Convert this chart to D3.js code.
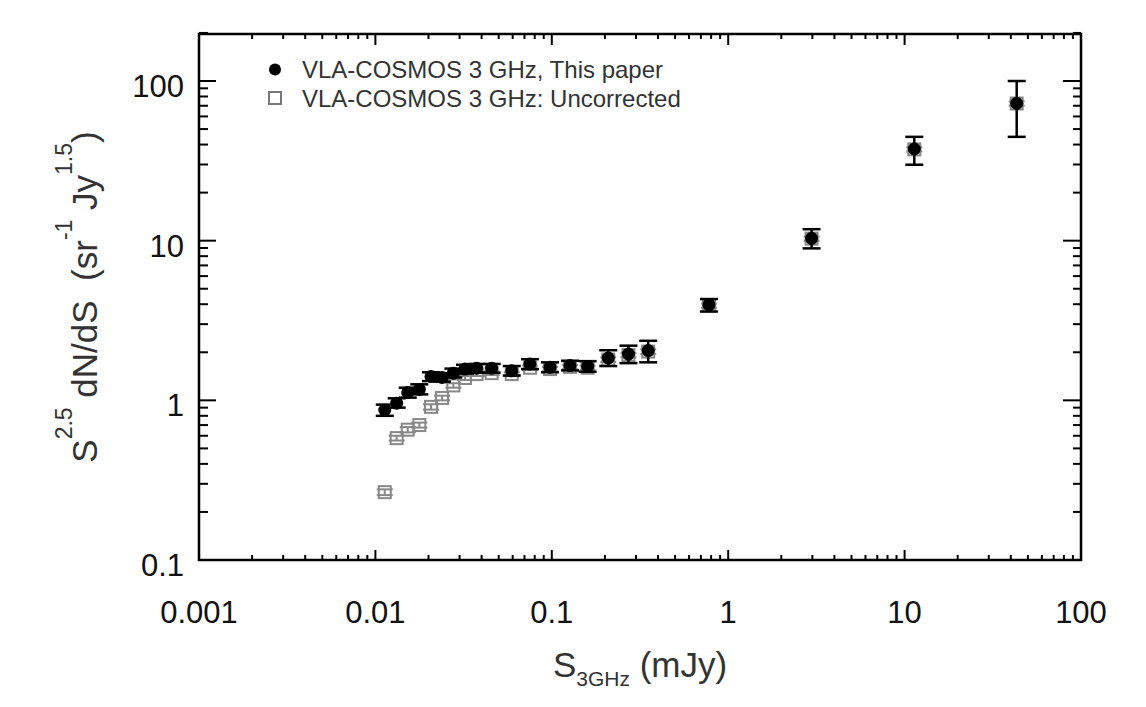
<!DOCTYPE html>
<html lang='en'>
<head>
  <meta charset='UTF-8'>
  <title>VLA-COSMOS 3 GHz source counts</title>
  <style type='text/css'>
    body {
      margin: 0;
      background: #fff;
      font-family: Helvetica, 'Liberation Sans', Arial, sans-serif;
    }
    .tick-label { font-size: 31px; fill: #111; }
    .title { font-size: 35px; fill: #333; }
    .legend-text { font-size: 24px; fill: #333; }
  </style>
  <script type='text/javascript' src='https://d3js.org/d3.v7.min.js'></script>
</head>
<body>
  <script type='text/javascript'>
    // flux bins (mJy)
    const flux = [0.0113, 0.0132, 0.01525, 0.01774, 0.02066, 0.02386, 0.02767, 0.0322, 0.0375, 0.0456,
      0.0593, 0.0752, 0.0977, 0.1268, 0.1596, 0.209, 0.272, 0.352, 0.778, 2.97, 11.35, 43.2]

    // corrected counts, This paper
    const counts = [0.87, 0.96, 1.12, 1.17, 1.41, 1.39, 1.48, 1.57, 1.59, 1.59,
      1.53, 1.69, 1.61, 1.65, 1.63, 1.84, 1.95, 2.05, 3.96, 10.35, 37.5, 72.5]
    const countsLo = [0.80, 0.90, 1.04, 1.09, 1.32, 1.31, 1.39, 1.47, 1.49, 1.49,
      1.43, 1.57, 1.50, 1.54, 1.51, 1.64, 1.71, 1.73, 3.60, 8.95, 29.9, 44.7]
    const countsHi = [0.94, 1.03, 1.20, 1.26, 1.50, 1.48, 1.58, 1.67, 1.69, 1.69,
      1.64, 1.81, 1.73, 1.77, 1.76, 2.06, 2.20, 2.36, 4.31, 11.8, 44.7, 100]

    // uncorrected counts
    const uncorr = [0.266, 0.58, 0.655, 0.70, 0.91, 1.035, 1.24, 1.38, 1.46, 1.48,
      1.46, 1.60, 1.57, 1.62, 1.60, 1.80, 1.92, 2.02, 3.92, 10.3, 37.3, 72.3]
    const uncorrLo = [0.255, 0.56, 0.63, 0.675, 0.875, 1.0, 1.2, 1.34, 1.42, 1.44,
      1.42, 1.55, 1.52, 1.57, 1.55, 1.74, 1.86, 1.95, 3.8, 10.0, 36.2, 70.1]
    const uncorrHi = [0.277, 0.60, 0.68, 0.725, 0.945, 1.07, 1.28, 1.42, 1.50, 1.52,
      1.50, 1.65, 1.62, 1.67, 1.65, 1.86, 1.98, 2.09, 4.04, 10.6, 38.4, 74.5]

    const xTicks = [0.001, 0.01, 0.1, 1, 10, 100]
    const xTickLabels = ['0.001', '0.01', '0.1', '1', '10', '100']
    const yTicks = [0.1, 1, 10, 100]
    const yTickLabels = ['0.1', '1', '10', '100']
    const legendLabels = ['VLA-COSMOS 3 GHz, This paper', 'VLA-COSMOS 3 GHz: Uncorrected']

    const W = 1146, H = 707
    const m = {left: 199, right: 1081, top: 34, bottom: 560}

    const svg = d3.select('body').append('svg')
      .attr('width', W)
      .attr('height', H)

    const x = d3.scaleLog().domain([0.001, 100]).range([m.left, m.right])
    const y = d3.scaleLog().domain([0.1, 197]).range([m.bottom, m.top])

    const isMajor = (v, majors) => majors.some(t => Math.abs(v / t - 1) < 1e-6)
    const xMinor = x.ticks().filter(v => !isMajor(v, xTicks))
    const yMinor = d3.scaleLog().domain([0.1, 200]).ticks().filter(v => !isMajor(v, yTicks))

    // ticks, drawn inward on all four sides
    const tickG = svg.append('g').attr('stroke', '#000').attr('stroke-width', 2)
    const hTick = (vals, yy, len) => tickG.selectAll(null).data(vals).enter().append('line')
      .attr('x1', d => x(d)).attr('x2', d => x(d))
      .attr('y1', yy).attr('y2', yy + len)
    const vTick = (vals, xx, len) => tickG.selectAll(null).data(vals).enter().append('line')
      .attr('y1', d => y(d)).attr('y2', d => y(d))
      .attr('x1', xx).attr('x2', xx + len)

    hTick(xTicks, m.bottom, -10)
    hTick(xMinor, m.bottom, -5)
    hTick(xTicks, m.top, 11)
    hTick(xMinor, m.top, 5)
    vTick(yTicks, m.left, 17)
    vTick(yMinor, m.left, 9)
    vTick(yTicks, m.right, -18)
    vTick(yMinor, m.right, -8)

    svg.append('rect')
      .attr('x', m.left).attr('y', m.top)
      .attr('width', m.right - m.left).attr('height', m.bottom - m.top)
      .attr('fill', 'none').attr('stroke', '#000').attr('stroke-width', 2.5)

    // tick labels
    svg.selectAll('.xl').data(xTicks).enter().append('text')
      .attr('class', 'tick-label')
      .attr('x', d => x(d)).attr('y', 623)
      .attr('text-anchor', 'middle')
      .text((d, i) => xTickLabels[i])

    svg.selectAll('.yl').data(yTicks).enter().append('text')
      .attr('class', 'tick-label')
      .attr('x', 184).attr('y', d => y(d) + 16)
      .attr('text-anchor', 'end')
      .text((d, i) => yTickLabels[i])

    // axis titles
    const xt = svg.append('text').attr('class', 'title')
      .attr('x', 640).attr('y', 677).attr('text-anchor', 'middle')
    xt.append('tspan').text('S')
    xt.append('tspan').attr('dy', 9).style('font-size', '21px').text('3GHz')
    xt.append('tspan').attr('dy', -9).text(' (mJy)')

    const yt = svg.append('text').attr('class', 'title')
      .attr('transform', 'translate(97,297) rotate(-90)')
      .attr('text-anchor', 'middle')
    yt.append('tspan').text('S')
    yt.append('tspan').attr('dy', -25).style('font-size', '23px').text('2.5')
    yt.append('tspan').attr('dy', 25).text('\u00a0dN/dS\u00a0\u00a0(sr')
    yt.append('tspan').attr('dy', -25).style('font-size', '23px').text('-1')
    yt.append('tspan').attr('dy', 25).text('\u00a0Jy')
    yt.append('tspan').attr('dy', -25).style('font-size', '23px').text('1.5')
    yt.append('tspan').attr('dy', 25).text(')')

    const rows = flux.map((f, i) => ({
      f, c: counts[i], cLo: countsLo[i], cHi: countsHi[i],
      u: uncorr[i], uLo: uncorrLo[i], uHi: uncorrHi[i]
    }))

    const errBars = (g, lo, hi, cap, color, sw) => {
      const e = g.selectAll(null).data(rows).enter().append('g')
        .attr('stroke', color).attr('stroke-width', sw)
      e.append('line')
        .attr('x1', d => x(d.f)).attr('x2', d => x(d.f))
        .attr('y1', d => y(d[lo])).attr('y2', d => y(d[hi]))
      e.append('line')
        .attr('x1', d => x(d.f) - cap / 2).attr('x2', d => x(d.f) + cap / 2)
        .attr('y1', d => y(d[lo])).attr('y2', d => y(d[lo]))
      e.append('line')
        .attr('x1', d => x(d.f) - cap / 2).attr('x2', d => x(d.f) + cap / 2)
        .attr('y1', d => y(d[hi])).attr('y2', d => y(d[hi]))
    }

    // uncorrected: grey open squares
    const gU = svg.append('g')
    gU.selectAll(null).data(rows).enter().append('rect')
      .attr('x', d => x(d.f) - 6).attr('y', d => y(d.u) - 6)
      .attr('width', 12).attr('height', 12)
      .attr('fill', 'none').attr('stroke', '#888').attr('stroke-width', 2)
    errBars(gU, 'uLo', 'uHi', 16, '#888', 2)

    // corrected: black filled circles
    const gC = svg.append('g')
    errBars(gC, 'cLo', 'cHi', 18, '#000', 2.5)
    gC.selectAll(null).data(rows).enter().append('circle')
      .attr('cx', d => x(d.f)).attr('cy', d => y(d.c))
      .attr('r', 6.5).attr('fill', '#000')

    // legend
    const lg = svg.append('g')
    lg.append('circle').attr('cx', 275).attr('cy', 69.5).attr('r', 6).attr('fill', '#000')
    lg.append('rect').attr('x', 269).attr('y', 92).attr('width', 12).attr('height', 12)
      .attr('fill', 'none').attr('stroke', '#777').attr('stroke-width', 2)
    lg.selectAll(null).data(legendLabels).enter().append('text')
      .attr('class', 'legend-text')
      .attr('x', 302).attr('y', (d, i) => 78 + i * 29)
      .text(d => d)
  </script>
</body>
</html>
